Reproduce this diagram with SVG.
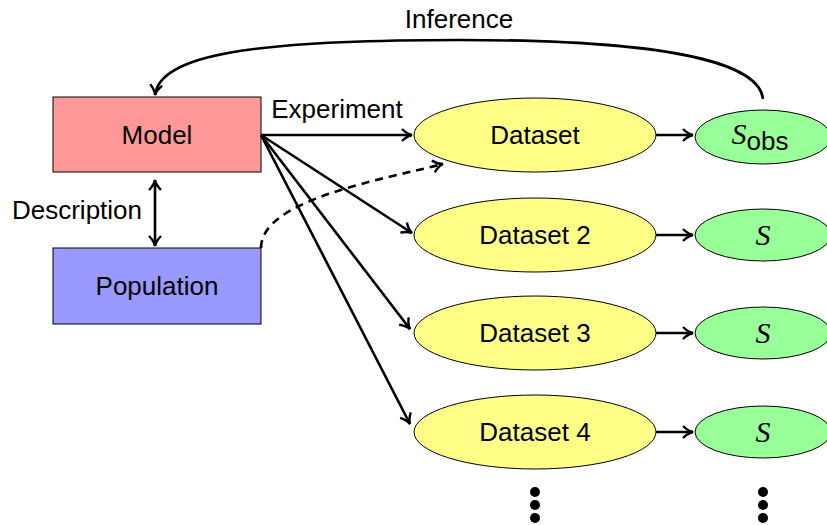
<svg xmlns="http://www.w3.org/2000/svg" width="827" height="525" viewBox="0 0 827 525">
<style>
.t{font-family:"Liberation Sans",Arial,sans-serif;font-size:26px;fill:#000}
.s{font-family:"Liberation Serif",serif;font-style:italic;font-size:30px;fill:#000}
.e{stroke:#000;stroke-width:2.6;fill:none}
.ds{fill:#ffff88;stroke:#000;stroke-width:1}
.st{fill:#99ff99;stroke:#000;stroke-width:1}
</style>
<defs>
<marker id="a" viewBox="0 0 14 14" refX="12" refY="7" markerWidth="14" markerHeight="14" markerUnits="userSpaceOnUse" orient="auto-start-reverse">
<path d="M2,1 Q7,6 12,7 Q7,8 2,13" fill="none" stroke="#000" stroke-width="2.4"/>
</marker>
</defs>
<g id="model"><rect x="53" y="97" width="208" height="75" fill="#ff9999" stroke="#000" stroke-width="1"/><text class="t" x="157" y="144" text-anchor="middle">Model</text></g>
<g id="population"><rect x="53" y="248" width="208" height="76" fill="#9999ff" stroke="#000" stroke-width="1"/><text class="t" x="157" y="295" text-anchor="middle">Population</text></g>
<g id="dataset1"><ellipse class="ds" cx="535" cy="135" rx="121" ry="37"/><text class="t" x="535" y="144" text-anchor="middle">Dataset</text></g>
<g id="dataset2"><ellipse class="ds" cx="535" cy="235" rx="121" ry="37"/><text class="t" x="535" y="244" text-anchor="middle">Dataset 2</text></g>
<g id="dataset3"><ellipse class="ds" cx="535" cy="333" rx="121" ry="37"/><text class="t" x="535" y="342" text-anchor="middle">Dataset 3</text></g>
<g id="dataset4"><ellipse class="ds" cx="535" cy="432" rx="121" ry="37"/><text class="t" x="535" y="441" text-anchor="middle">Dataset 4</text></g>
<g id="sobs"><ellipse class="st" cx="763" cy="137" rx="68" ry="27"/><text x="760" y="144" text-anchor="middle"><tspan class="s">S</tspan><tspan class="t" font-size="21" dy="6">obs</tspan></text></g>
<g id="s2"><ellipse class="st" cx="763" cy="235" rx="68" ry="26"/><text class="s" x="763" y="245" text-anchor="middle">S</text></g>
<g id="s3"><ellipse class="st" cx="763" cy="333" rx="68" ry="26"/><text class="s" x="763" y="343" text-anchor="middle">S</text></g>
<g id="s4"><ellipse class="st" cx="763" cy="432" rx="68" ry="26"/><text class="s" x="763" y="442" text-anchor="middle">S</text></g>
<g id="connectors">
<line class="e" x1="261" y1="135" x2="412" y2="135" marker-end="url(#a)"/>
<line class="e" x1="261" y1="135" x2="412" y2="233" marker-end="url(#a)"/>
<line class="e" x1="261" y1="135" x2="410" y2="329" marker-end="url(#a)"/>
<line class="e" x1="261" y1="135" x2="410" y2="424" marker-end="url(#a)"/>
<line class="e" x1="656" y1="135" x2="693" y2="135" marker-end="url(#a)"/>
<line class="e" x1="656" y1="235" x2="693" y2="235" marker-end="url(#a)"/>
<line class="e" x1="656" y1="333" x2="693" y2="333" marker-end="url(#a)"/>
<line class="e" x1="656" y1="432" x2="693" y2="432" marker-end="url(#a)"/>
<line class="e" x1="155" y1="180" x2="155" y2="246" marker-start="url(#a)" marker-end="url(#a)"/>
<path class="e" d="M261,248 C261,200 380,180 443,164" stroke-dasharray="8,6" marker-end="url(#a)"/>
<path class="e" d="M763,99 C760,70 700,40 460,40 C250,40 160,55 155,95" marker-end="url(#a)"/>
<text class="t" x="459" y="28" text-anchor="middle">Inference</text>
<text class="t" x="337" y="118" text-anchor="middle">Experiment</text>
<text class="t" x="77" y="219" text-anchor="middle">Description</text>
</g>
<g id="dots1"><circle cx="535" cy="492" r="5"/><circle cx="535" cy="505" r="5"/><circle cx="535" cy="518" r="5"/></g>
<g id="dots2"><circle cx="763" cy="492" r="5"/><circle cx="763" cy="505" r="5"/><circle cx="763" cy="518" r="5"/></g>
</svg>
